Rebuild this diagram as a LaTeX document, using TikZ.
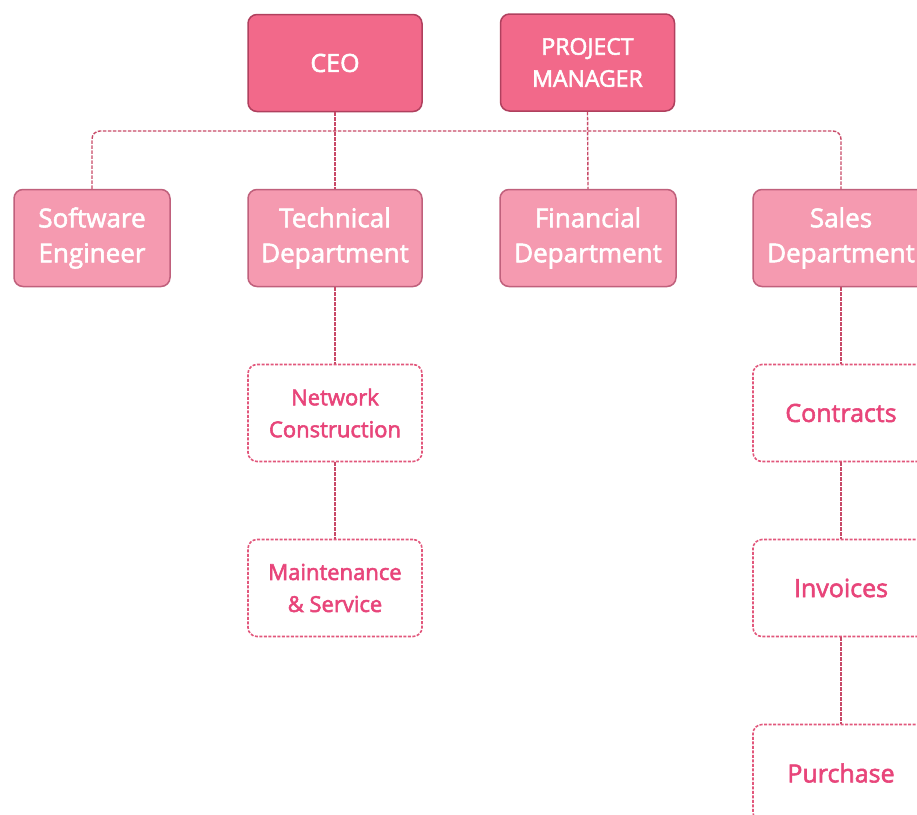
\documentclass[tikz,border=0pt]{standalone}
\usepackage{fontspec}
\setmainfont{Open Sans}
\newcommand\strokeon{\special{pdf:literal direct 2 Tr 0.55 w}}
\newcommand\strokeoff{\special{pdf:literal direct 0 Tr 0.4 w}}
\definecolor{topfill}{HTML}{F2698A}
\definecolor{topdraw}{HTML}{B0405E}
\definecolor{midfill}{HTML}{F59AB0}
\definecolor{middraw}{HTML}{C0607C}
\definecolor{lowdraw}{HTML}{E2577C}
\definecolor{lowtext}{HTML}{E8457A}
\definecolor{linecol}{HTML}{C84A68}
\tikzset{
  x=1pt,y=-1pt,
  heavy/.style={execute at begin node=\strokeon,execute at end node=\strokeoff},
  topbox/.style={heavy,draw=topdraw,fill=topfill,line width=1.5pt,rounded corners=9pt,
    minimum width=174pt,minimum height=97pt,text=white,align=center,
    font=\fontsize{23}{32}\selectfont},
  midbox/.style={heavy,draw=middraw,fill=midfill,line width=1.5pt,rounded corners=9pt,
    minimum width=176pt,minimum height=97pt,text=white,align=center,
    font=\fontsize{26}{35}\selectfont},
  lowbox/.style={heavy,draw=lowdraw,fill=white,line width=1.6pt,dash pattern=on 3pt off 1.5pt,
    rounded corners=9pt,minimum width=174pt,minimum height=97pt,text=lowtext,align=center,
    font=\fontsize{22}{32}\selectfont},
  bigtext/.style={font=\fontsize{25}{32}\selectfont},
  conn/.style={draw=linecol,line width=1.4pt,dash pattern=on 3.5pt off 1.5pt}
}
\begin{document}
\begin{tikzpicture}
\useasboundingbox (0,0) rectangle (917,814);
\clip (0,0) rectangle (917,814);
\fill[white] (0,0) rectangle (917,814);
\coordinate (bus) at (0,131);
\node[topbox,font=\fontsize{25}{32}\selectfont] (ceo) at (335,63) {CEO};
\node[topbox] (pm) at (587.5,62.5) {PROJECT\\MANAGER};
\node[midbox,minimum width=156pt] (se) at (92,238) {Software\\Engineer};
\node[midbox,minimum width=174pt] (tech) at (335,238) {Technical\\Department};
\node[midbox] (fin) at (588,238) {Financial\\Department};
\node[midbox] (sales) at (841,238) {Sales\\Department};
\node[lowbox] (net) at (335,413) {Network\\Construction};
\node[lowbox] (maint) at (335,588) {Maintenance\\\&~Service};
\node[lowbox,minimum width=176pt,bigtext] (contr) at (841,413) {Contracts};
\node[lowbox,minimum width=176pt,bigtext] (inv) at (841,588) {Invoices};
\node[lowbox,minimum width=176pt,bigtext] (purch) at (841,773) {Purchase};
\draw[conn] (ceo.south) -- (tech.north);
\draw[conn] (pm.south) -- (fin.north);
\draw[conn,rounded corners=8pt] (se.north) -- (se.north |- bus) -- (sales.north |- bus) -- (sales.north);
\draw[conn] (tech.south) -- (net.north);
\draw[conn] (net.south) -- (maint.north);
\draw[conn] (sales.south) -- (contr.north);
\draw[conn] (contr.south) -- (inv.north);
\draw[conn] (inv.south) -- (purch.north);
\end{tikzpicture}
\end{document}
